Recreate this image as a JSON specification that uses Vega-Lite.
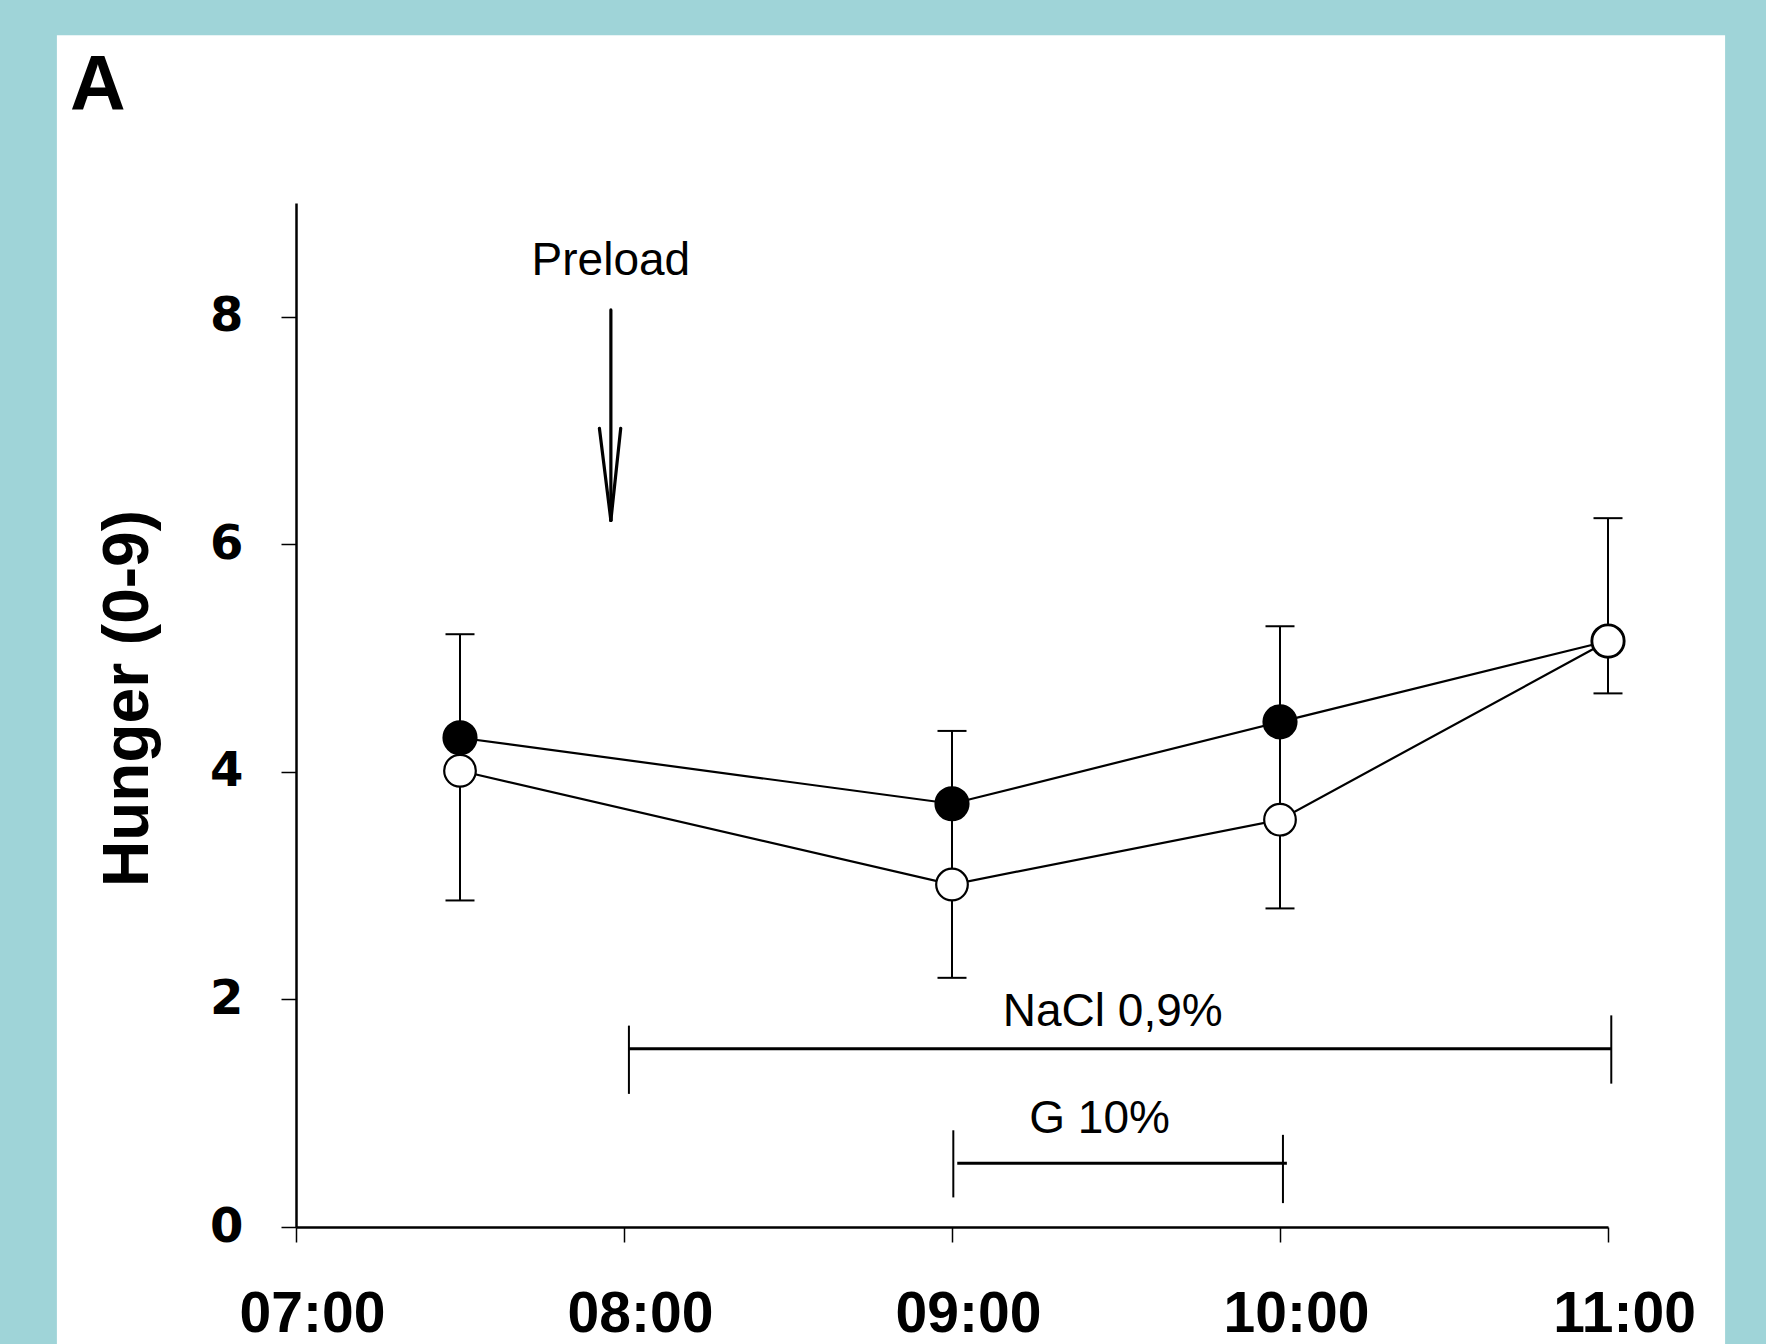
{
 "$schema": "https://vega.github.io/schema/vega-lite/v6.json",
 "width": 1312,
 "height": 1024,
 "autosize": {"type": "none"},
 "padding": {"left": 296, "top": 203, "right": 158, "bottom": 117},
 "background": "#9fd4d8",
 "config": {
  "view": {"stroke": null},
  "font": "Liberation Sans",
  "axisX": {"domainColor": "black", "domainWidth": 2.5, "tickColor": "black", "tickWidth": 1.5, "tickSize": 15, "labelFont": "Liberation Sans", "labelFontWeight": "bold", "labelFontSize": 57, "labelColor": "black", "labelPadding": 44, "labelOffset": 16, "labelFlush": false, "labelOverlap": false, "grid": false},
  "axisY": {"domainColor": "black", "domainWidth": 2.5, "tickColor": "black", "tickWidth": 1.5, "tickSize": 15, "labelFont": "DejaVu Sans", "labelFontWeight": "bold", "labelFontSize": 48, "labelColor": "black", "labelPadding": 38, "grid": false, "titleFont": "Liberation Sans", "titleFontWeight": "bold", "titleFontSize": 64, "titleColor": "black", "titleX": -168, "titleY": 495, "titleAngle": -90, "titleAlign": "center", "titleBaseline": "middle"}
 },
 "datasets": {
  "one": [{}],
  "means": [
   {"t": 7.5, "v": 4.30, "g": "filled"},
   {"t": 9, "v": 3.72, "g": "filled"},
   {"t": 10, "v": 4.44, "g": "filled"},
   {"t": 11, "v": 5.15, "g": "filled"},
   {"t": 7.5, "v": 4.01, "g": "open"},
   {"t": 9, "v": 3.01, "g": "open"},
   {"t": 10, "v": 3.58, "g": "open"},
   {"t": 11, "v": 5.15, "g": "open"}
  ],
  "errs": [
   {"t": 7.5, "lo": 2.87, "hi": 5.21},
   {"t": 9, "lo": 2.19, "hi": 4.36},
   {"t": 10, "lo": 2.80, "hi": 5.28},
   {"t": 11, "lo": 4.69, "hi": 6.23}
  ],
  "arrow": [
   {"x": 7.96, "y": 8.06, "x2": 7.96, "y2": 6.21},
   {"x": 7.925, "y": 7.02, "x2": 7.96, "y2": 6.21},
   {"x": 7.99, "y": 7.02, "x2": 7.96, "y2": 6.21}
  ],
  "thin": [
   {"x": 8.015, "y": 1.17, "x2": 8.015, "y2": 1.77},
   {"x": 11.01, "y": 1.26, "x2": 11.01, "y2": 1.86},
   {"x": 9.004, "y": 0.26, "x2": 9.004, "y2": 0.85},
   {"x": 10.009, "y": 0.21, "x2": 10.009, "y2": 0.81}
  ],
  "thick": [
   {"x": 8.015, "y": 1.567, "x2": 11.01, "y2": 1.567},
   {"x": 9.016, "y": 0.561, "x2": 10.021, "y2": 0.561}
  ],
  "notes": [
   {"x": 7.96, "y": 8.37, "label": "Preload"},
   {"x": 9.49, "y": 1.763, "label": "NaCl 0,9%"},
   {"x": 9.45, "y": 0.825, "label": "G 10%"}
  ]
 },
 "layer": [
  {
   "data": {"name": "one"},
   "mark": {"type": "rect", "color": "white", "clip": false},
   "encoding": {
    "x": {"datum": 6.271, "type": "quantitative", "scale": {"domain": [7, 11], "nice": false, "zero": false}, "axis": {"values": [7, 8, 9, 10, 11], "title": null, "zindex": 2, "labelExpr": "(datum.value < 10 ? '0' : '') + datum.value + ':00'"}},
    "x2": {"datum": 11.357},
    "y": {"datum": 10.475, "type": "quantitative", "scale": {"domain": [0, 9], "nice": false, "zero": true}, "axis": {"values": [0, 2, 4, 6, 8], "format": "d", "zindex": 2, "title": "Hunger (0-9)"}},
    "y2": {"datum": -1.2}
   }
  },
  {
   "data": {"name": "one"},
   "mark": {"type": "text", "text": "A", "font": "Liberation Sans", "fontWeight": "bold", "fontSize": 77, "align": "left", "baseline": "alphabetic", "color": "black", "clip": false},
   "encoding": {
    "x": {"datum": 6.311, "type": "quantitative"},
    "y": {"datum": 9.815, "type": "quantitative"}
   }
  },
  {
   "data": {"name": "errs"},
   "mark": {"type": "rule", "color": "black", "strokeWidth": 2},
   "encoding": {
    "x": {"field": "t", "type": "quantitative"},
    "y": {"field": "lo", "type": "quantitative"},
    "y2": {"field": "hi"}
   }
  },
  {
   "data": {"name": "errs"},
   "mark": {"type": "tick", "orient": "horizontal", "color": "black", "size": 29, "thickness": 2, "opacity": 1},
   "encoding": {
    "x": {"field": "t", "type": "quantitative"},
    "y": {"field": "lo", "type": "quantitative"}
   }
  },
  {
   "data": {"name": "errs"},
   "mark": {"type": "tick", "orient": "horizontal", "color": "black", "size": 29, "thickness": 2, "opacity": 1},
   "encoding": {
    "x": {"field": "t", "type": "quantitative"},
    "y": {"field": "hi", "type": "quantitative"}
   }
  },
  {
   "data": {"name": "means"},
   "mark": {"type": "line", "color": "black", "strokeWidth": 2.2},
   "encoding": {
    "x": {"field": "t", "type": "quantitative"},
    "y": {"field": "v", "type": "quantitative"},
    "detail": {"field": "g"}
   }
  },
  {
   "data": {"name": "means"},
   "transform": [{"filter": "datum.g == 'filled'"}],
   "mark": {"type": "point", "shape": "circle", "filled": true, "size": 1100, "fill": "black", "stroke": "black", "strokeWidth": 2, "opacity": 1},
   "encoding": {
    "x": {"field": "t", "type": "quantitative"},
    "y": {"field": "v", "type": "quantitative"}
   }
  },
  {
   "data": {"name": "means"},
   "transform": [{"filter": "datum.g == 'open'"}],
   "mark": {"type": "point", "shape": "circle", "filled": true, "size": 1000, "fill": "white", "stroke": "black", "strokeWidth": 2.2, "opacity": 1},
   "encoding": {
    "x": {"field": "t", "type": "quantitative"},
    "y": {"field": "v", "type": "quantitative"}
   }
  },
  {
   "data": {"name": "arrow"},
   "mark": {"type": "rule", "color": "black", "strokeWidth": 3.2, "strokeCap": "round"},
   "encoding": {
    "x": {"field": "x", "type": "quantitative"},
    "y": {"field": "y", "type": "quantitative"},
    "x2": {"field": "x2"},
    "y2": {"field": "y2"}
   }
  },
  {
   "data": {"name": "thin"},
   "mark": {"type": "rule", "color": "black", "strokeWidth": 2},
   "encoding": {
    "x": {"field": "x", "type": "quantitative"},
    "y": {"field": "y", "type": "quantitative"},
    "x2": {"field": "x2"},
    "y2": {"field": "y2"}
   }
  },
  {
   "data": {"name": "thick"},
   "mark": {"type": "rule", "color": "black", "strokeWidth": 3},
   "encoding": {
    "x": {"field": "x", "type": "quantitative"},
    "y": {"field": "y", "type": "quantitative"},
    "x2": {"field": "x2"},
    "y2": {"field": "y2"}
   }
  },
  {
   "data": {"name": "notes"},
   "mark": {"type": "text", "font": "Liberation Sans", "fontSize": 46, "align": "center", "baseline": "alphabetic", "color": "black"},
   "encoding": {
    "x": {"field": "x", "type": "quantitative"},
    "y": {"field": "y", "type": "quantitative"},
    "text": {"field": "label"}
   }
  }
 ]
}
